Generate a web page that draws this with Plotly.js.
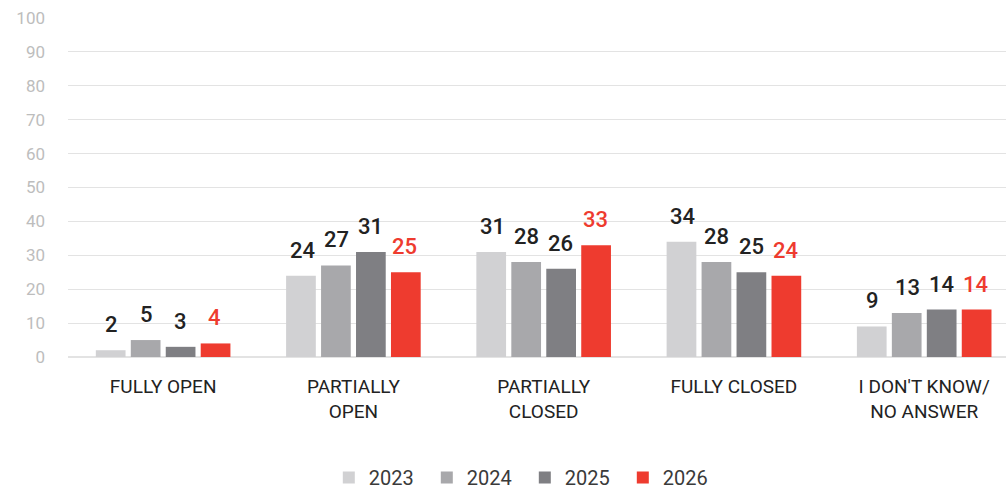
<!DOCTYPE html>
<html><head><meta charset="utf-8">
<script src="https://cdn.plot.ly/plotly-3.0.1.min.js"></script>
<style>html,body{margin:0;padding:0;background:#fff;}#chart{width:1006px;height:497px;}</style>
</head><body><div id="chart"></div>
<script>
const categories = ["FULLY OPEN", "PARTIALLY<br>OPEN", "PARTIALLY<br>CLOSED", "FULLY CLOSED", "I DON'T KNOW/<br>NO ANSWER"];
const years = ["2023", "2024", "2025", "2026"];
const v2023 = [2, 24, 31, 34, 9];
const v2024 = [5, 27, 28, 28, 13];
const v2025 = [3, 31, 26, 25, 14];
const v2026 = [4, 25, 33, 24, 14];
const yTicks = [0,10,20,30,40,50,60,70,80,90,100];

const series = [v2023, v2024, v2025, v2026];
const colors = ["#d1d1d3", "#a8a8ab", "#7f7f83", "#ee3b2f"];
const labelColors = ["#222", "#222", "#222", "#ee3b2f"];

const traces = series.map((vals, j) => ({
  type: "bar", name: years[j], x: categories.map((c,i)=>i), y: vals,
  marker: {color: colors[j]}, hoverinfo: "none"
}));

const slot = 0.18;
const annotations = [];
series.forEach((vals, j) => {
  vals.forEach((v, i) => {
    annotations.push({
      x: i + (j - 1.5) * slot, y: v, xref: "x", yref: "y",
      text: String(v), showarrow: false, yanchor: "bottom", yshift: 11,
      font: {family: "Roboto", size: 22, color: labelColors[j], weight: 500}
    });
  });
});

const layout = {
  width: 1006, height: 497,
  margin: {l: 68, r: 0, t: 18, b: 140},
  paper_bgcolor: "#fff", plot_bgcolor: "#fff",
  barmode: "group", bargap: 0.265, bargroupgap: 0.15,
  showlegend: true,
  legend: {orientation: "h", x: 0.487, xanchor: "center", yref: "container", y: -0.032, yanchor: "bottom",
           font: {family: "Roboto", size: 20, color: "#3a3a3a"}, itemwidth: 30, traceorder: "normal",
           entrywidth: 53},
  xaxis: {range: [-0.5, 4.43], tickmode: "array", tickvals: [0,1,2,3,4], ticktext: categories,
          showgrid: false, zeroline: false, showline: false, ticks: "",
          tickfont: {family: "Roboto", size: 19, color: "#222"}, ticklabelstandoff: 16},
  yaxis: {range: [0, 100], tickmode: "array", tickvals: yTicks, showgrid: true, gridcolor: "#e3e3e3",
          gridwidth: 1, zeroline: true, zerolinecolor: "#e3e3e3", zerolinewidth: 2,
          tickfont: {family: "Roboto", size: 17, color: "#bdbdbd"}, ticks: "", ticklabelstandoff: 22},
  annotations: annotations
};

Plotly.newPlot("chart", traces, layout, {displayModeBar: false, staticPlot: true});
</script></body></html>
